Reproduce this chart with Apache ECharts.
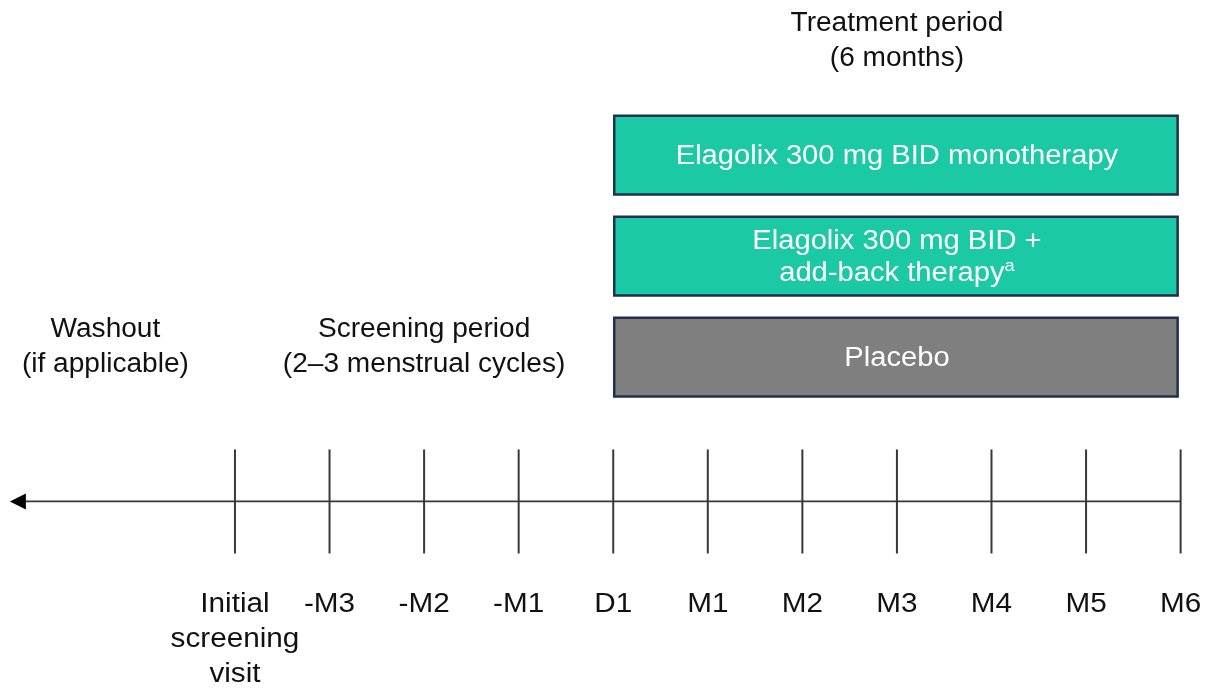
<!DOCTYPE html>
<html><head><meta charset="utf-8">
<script src="https://cdn.jsdelivr.net/npm/echarts@6/dist/echarts.min.js"></script>
<style>html,body{margin:0;padding:0;background:#fff}#c{width:1212px;height:690px}</style>
</head><body><div id="c"></div>
<script>
// ---- data ----
const timepoints = ['Initial\nscreening\nvisit', '-M3', '-M2', '-M1', 'D1', 'M1', 'M2', 'M3', 'M4', 'M5', 'M6'];
const timeValues = [-4, -3, -2, -1, 0, 1, 2, 3, 4, 5, 6];
const arms = ['Elagolix 300 mg BID monotherapy', 'Elagolix 300 mg BID +\nadd-back therapy{sup|a}', 'Placebo'];
const armStart = [0, 0, 0];
const armEnd = [6, 6, 6];
const periods = ['Washout\n(if applicable)', 'Screening period\n(2–3 menstrual cycles)', 'Treatment period\n(6 months)'];
const periodStart = [-6.74, -4, 0];
const periodEnd = [-4, 0, 6];
const timelineStart = -6.38;
const timelineEnd = 6;

// ---- layout / style (not data) ----
const armColors = ['#1cc9a5', '#1cc9a5', '#7f7f7f'];
const ROWPX = 101;
const yMin = -1.535;
const yMax = yMin + 690 / ROWPX;
const ROW = { header: -1.124, side: 1.901, axis: 3.43, tickHalf: 0.515, labels: 4.282, boxHalf: 0.39 };
const periodRow = [ROW.side, ROW.side, ROW.header];
const FONT = '"Liberation Sans", Arial, sans-serif';
const LINE = '#383838';

const chart = echarts.init(document.getElementById('c'), null, { renderer: 'canvas' });

const option = {
  backgroundColor: '#ffffff',
  animation: false,
  grid: { left: 8, right: 3, top: 0, bottom: 0 },
  xAxis: { type: 'value', min: -6.4, max: 6.3, show: false },
  yAxis: { type: 'value', min: yMin, max: yMax, inverse: true, show: false },
  series: [
    { // timeline with arrow
      type: 'custom', silent: true,
      data: [[timelineStart, timelineEnd]],
      renderItem: function (params, api) {
        const a = api.coord([api.value(0), ROW.axis]);
        const b = api.coord([api.value(1), ROW.axis]);
        return {
          type: 'group', children: [
            { type: 'line', shape: { x1: a[0] + 12, y1: a[1], x2: b[0], y2: b[1] }, style: { stroke: LINE, lineWidth: 1.8 } },
            { type: 'polygon', shape: { points: [[a[0], a[1]], [a[0] + 16, a[1] - 8], [a[0] + 16, a[1] + 8]] }, style: { fill: '#000' } }
          ]
        };
      }
    },
    { // ticks + labels
      type: 'custom', silent: true,
      data: timeValues.map((v, i) => [v, i]),
      renderItem: function (params, api) {
        const v = api.value(0);
        const i = api.value(1);
        const t = api.coord([v, ROW.axis - ROW.tickHalf]);
        const b = api.coord([v, ROW.axis + ROW.tickHalf]);
        const l = api.coord([v, ROW.labels]);
        return {
          type: 'group', children: [
            { type: 'line', shape: { x1: t[0], y1: t[1], x2: b[0], y2: b[1] }, style: { stroke: LINE, lineWidth: 2 } },
            { type: 'text', x: l[0], y: l[1], scaleX: 1.1, style: { text: timepoints[i], fill: '#111', fontSize: 27, fontFamily: FONT, align: 'center', verticalAlign: 'top', lineHeight: 35 } }
          ]
        };
      }
    },
    { // treatment arms
      type: 'custom', silent: true,
      data: arms.map((a, i) => [armStart[i], armEnd[i], i]),
      renderItem: function (params, api) {
        const i = api.value(2);
        const p0 = api.coord([api.value(0), i - ROW.boxHalf]);
        const p1 = api.coord([api.value(1), i + ROW.boxHalf]);
        const c = api.coord([(api.value(0) + api.value(1)) / 2, i]);
        return {
          type: 'group', children: [
            { type: 'rect', shape: { x: p0[0] + 1, y: p0[1], width: p1[0] - p0[0] - 4, height: p1[1] - p0[1] }, style: { fill: armColors[i], stroke: '#1f3050', lineWidth: 2.5 } },
            { type: 'text', x: c[0], y: c[1] + 2, scaleX: 1.08, style: {
              text: arms[i], fill: '#ffffff', fontSize: 27, fontFamily: FONT, align: 'center', verticalAlign: 'middle', lineHeight: 32,
              rich: { sup: { fontSize: 17, fontFamily: FONT, fill: '#ffffff', verticalAlign: 'top', lineHeight: 32, padding: [0, 0, 14, 0] } }
            } }
          ]
        };
      }
    },
    { // period headings
      type: 'custom', silent: true,
      data: periods.map((p, i) => [(periodStart[i] + periodEnd[i]) / 2, i]),
      renderItem: function (params, api) {
        const i = api.value(1);
        const c = api.coord([api.value(0), periodRow[i]]);
        return { type: 'text', x: c[0], y: c[1], scaleX: 1.04, style: { text: periods[i], fill: '#111', fontSize: 27, fontFamily: FONT, align: 'center', verticalAlign: 'middle', lineHeight: 35 } };
      }
    }
  ]
};
chart.setOption(option);
</script>
</body></html>
